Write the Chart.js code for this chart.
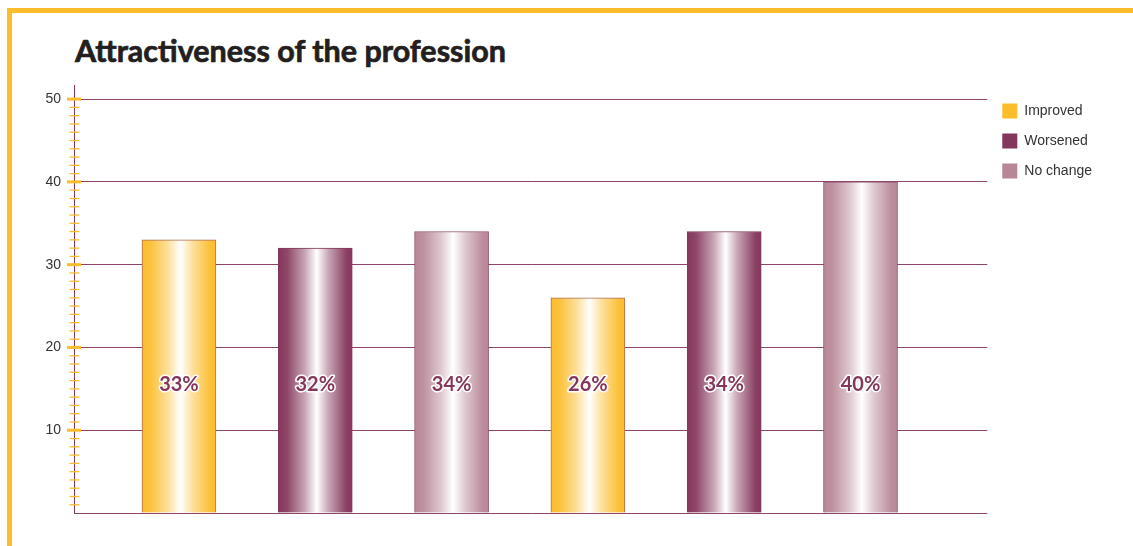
<!DOCTYPE html>
<html>
<head>
<meta charset="utf-8">
<script src="https://cdn.jsdelivr.net/npm/chart.js@4.4.1/dist/chart.umd.min.js"></script>
<style>
  html, body { margin: 0; padding: 0; background: #fff; }
  body { width: 1133px; height: 546px; position: relative; overflow: hidden; }
  #frame { position: absolute; left: 7px; top: 8px; right: 0; bottom: 0;
           border-top: 5px solid #fbbd2c; border-left: 5px solid #fbbd2c; }
  h1 { position: absolute; left: 75px; top: 32px; margin: 0; line-height: 1;
       font: 700 30.5px Lato, sans-serif; color: #231f20;
       -webkit-text-stroke: 0.7px #231f20; }
  #wrap { position: absolute; left: 0; top: 0; width: 1133px; height: 546px; }
</style>
</head>
<body>
<div id="frame"></div>
<h1>Attractiveness of the profession</h1>
<div id="wrap"><canvas id="chart"></canvas></div>
<script>
/* ===== data ===== */
const categories   = ['Improved', 'Worsened', 'No change', 'Improved', 'Worsened', 'No change'];
const values       = [33, 32, 34, 26, 34, 40];
const seriesNames  = ['Improved', 'Worsened', 'No change'];
const seriesColors = ['#fbbd2c', '#85375b', '#b88797'];
const seriesBorder = ['#b06c55', '#85375b', '#8e4d68'];

const BAR_W = 74;
const LABEL_FONT = 'Liberation Sans, Arial, sans-serif';

function mix(hex, t) {
  // blend hex colour towards white by t
  const n = parseInt(hex.slice(1), 16);
  const r = (n >> 16) & 255, g = (n >> 8) & 255, b = n & 255;
  const f = c => Math.round(c + (255 - c) * t);
  return `rgb(${f(r)},${f(g)},${f(b)})`;
}

function barFill(ctx, color) {
  const chart = ctx.chart;
  const xs = chart.scales.x;
  if (!xs || !ctx.raw || !chart.chartArea) return color;
  const cx = xs.getPixelForValue(ctx.raw.x);
  const g = chart.ctx.createLinearGradient(cx - BAR_W / 2, 0, cx + BAR_W / 2, 0);
  g.addColorStop(0, color);
  g.addColorStop(0.12, mix(color, 0.08));
  g.addColorStop(0.36, mix(color, 0.55));
  g.addColorStop(0.52, '#ffffff');
  g.addColorStop(0.68, mix(color, 0.55));
  g.addColorStop(0.92, mix(color, 0.05));
  g.addColorStop(1, color);
  return g;
}

const datasets = seriesNames.map((name, s) => ({
  label: name,
  data: categories.map((c, i) => c === name ? {x: i + 1, y: values[i]} : null).filter(Boolean),
  backgroundColor: ctx => barFill(ctx, seriesColors[s]),
  borderColor: seriesBorder[s],
  borderWidth: 1,
  borderSkipped: 'bottom',
  barThickness: BAR_W
}));

// yellow minor / major tick marks crossing the y axis
const tickMarks = {
  id: 'tickMarks',
  afterDraw(chart) {
    const ys = chart.scales.y;
    const x0 = chart.chartArea.left;
    const c = chart.ctx;
    c.save();
    c.fillStyle = '#fbbd2c';
    for (let v = 1; v <= 50; v++) {
      const py = ys.getPixelForValue(v);
      if (v % 10 === 0) c.fillRect(x0 - 7, py - 1.5, 14, 3);
      else c.fillRect(x0 - 4.5, py - 0.6, 10, 1.3);
    }
    c.restore();
  }
};

// percentage labels inside the bars
const barLabels = {
  id: 'barLabels',
  afterDraw(chart) {
    const c = chart.ctx;
    const ys = chart.scales.y;
    c.save();
    c.font = '700 20px Lato, sans-serif';
    c.textAlign = 'center';
    c.textBaseline = 'middle';
    c.lineJoin = 'round';
    chart.data.datasets.forEach((ds, di) => {
      chart.getDatasetMeta(di).data.forEach((bar, i) => {
        const txt = ds.data[i].y + '%';
        const py = ys.getPixelForValue(15.5);
        c.strokeStyle = '#ffffff';
        c.lineWidth = 3;
        c.strokeText(txt, bar.x, py);
        c.fillStyle = '#85375b';
        c.fillText(txt, bar.x, py);
      });
    });
    c.restore();
  }
};

new Chart(document.getElementById('chart'), {
  type: 'bar',
  data: { datasets },
  plugins: [tickMarks, barLabels],
  options: {
    responsive: true,
    maintainAspectRatio: false,
    animation: false,
    layout: { padding: { top: 85, bottom: 33, left: 0, right: 31 } },
    datasets: { bar: { grouped: false } },
    scales: {
      x: { type: 'linear', min: 0.23, max: 6.93, offset: false, display: false },
      y: {
        min: 0, max: 51.7, z: 1,
        border: { color: '#85375b', width: 1 },
        grid: { color: '#8c4468', lineWidth: 1, drawTicks: false },
        ticks: {
          stepSize: 10, includeBounds: false, padding: 13, color: '#333',
          font: { size: 14, family: LABEL_FONT },
          callback: v => v === 0 ? '' : v
        },
        afterFit(s) { s.width = 74; }
      }
    },
    plugins: {
      tooltip: { enabled: false },
      legend: {
        position: 'right',
        align: 'start',
        title: { display: true, text: '', font: { size: 3 }, padding: 0 },
        labels: {
          boxWidth: 15, boxHeight: 15, padding: 15, color: '#333',
          font: { size: 14, family: LABEL_FONT },
          generateLabels(chart) {
            const items = Chart.defaults.plugins.legend.labels.generateLabels(chart);
            return items.map((it, i) => Object.assign(it, {
              fillStyle: seriesColors[i], strokeStyle: seriesColors[i], lineWidth: 0
            }));
          }
        }
      }
    }
  }
});
</script>
</body>
</html>
